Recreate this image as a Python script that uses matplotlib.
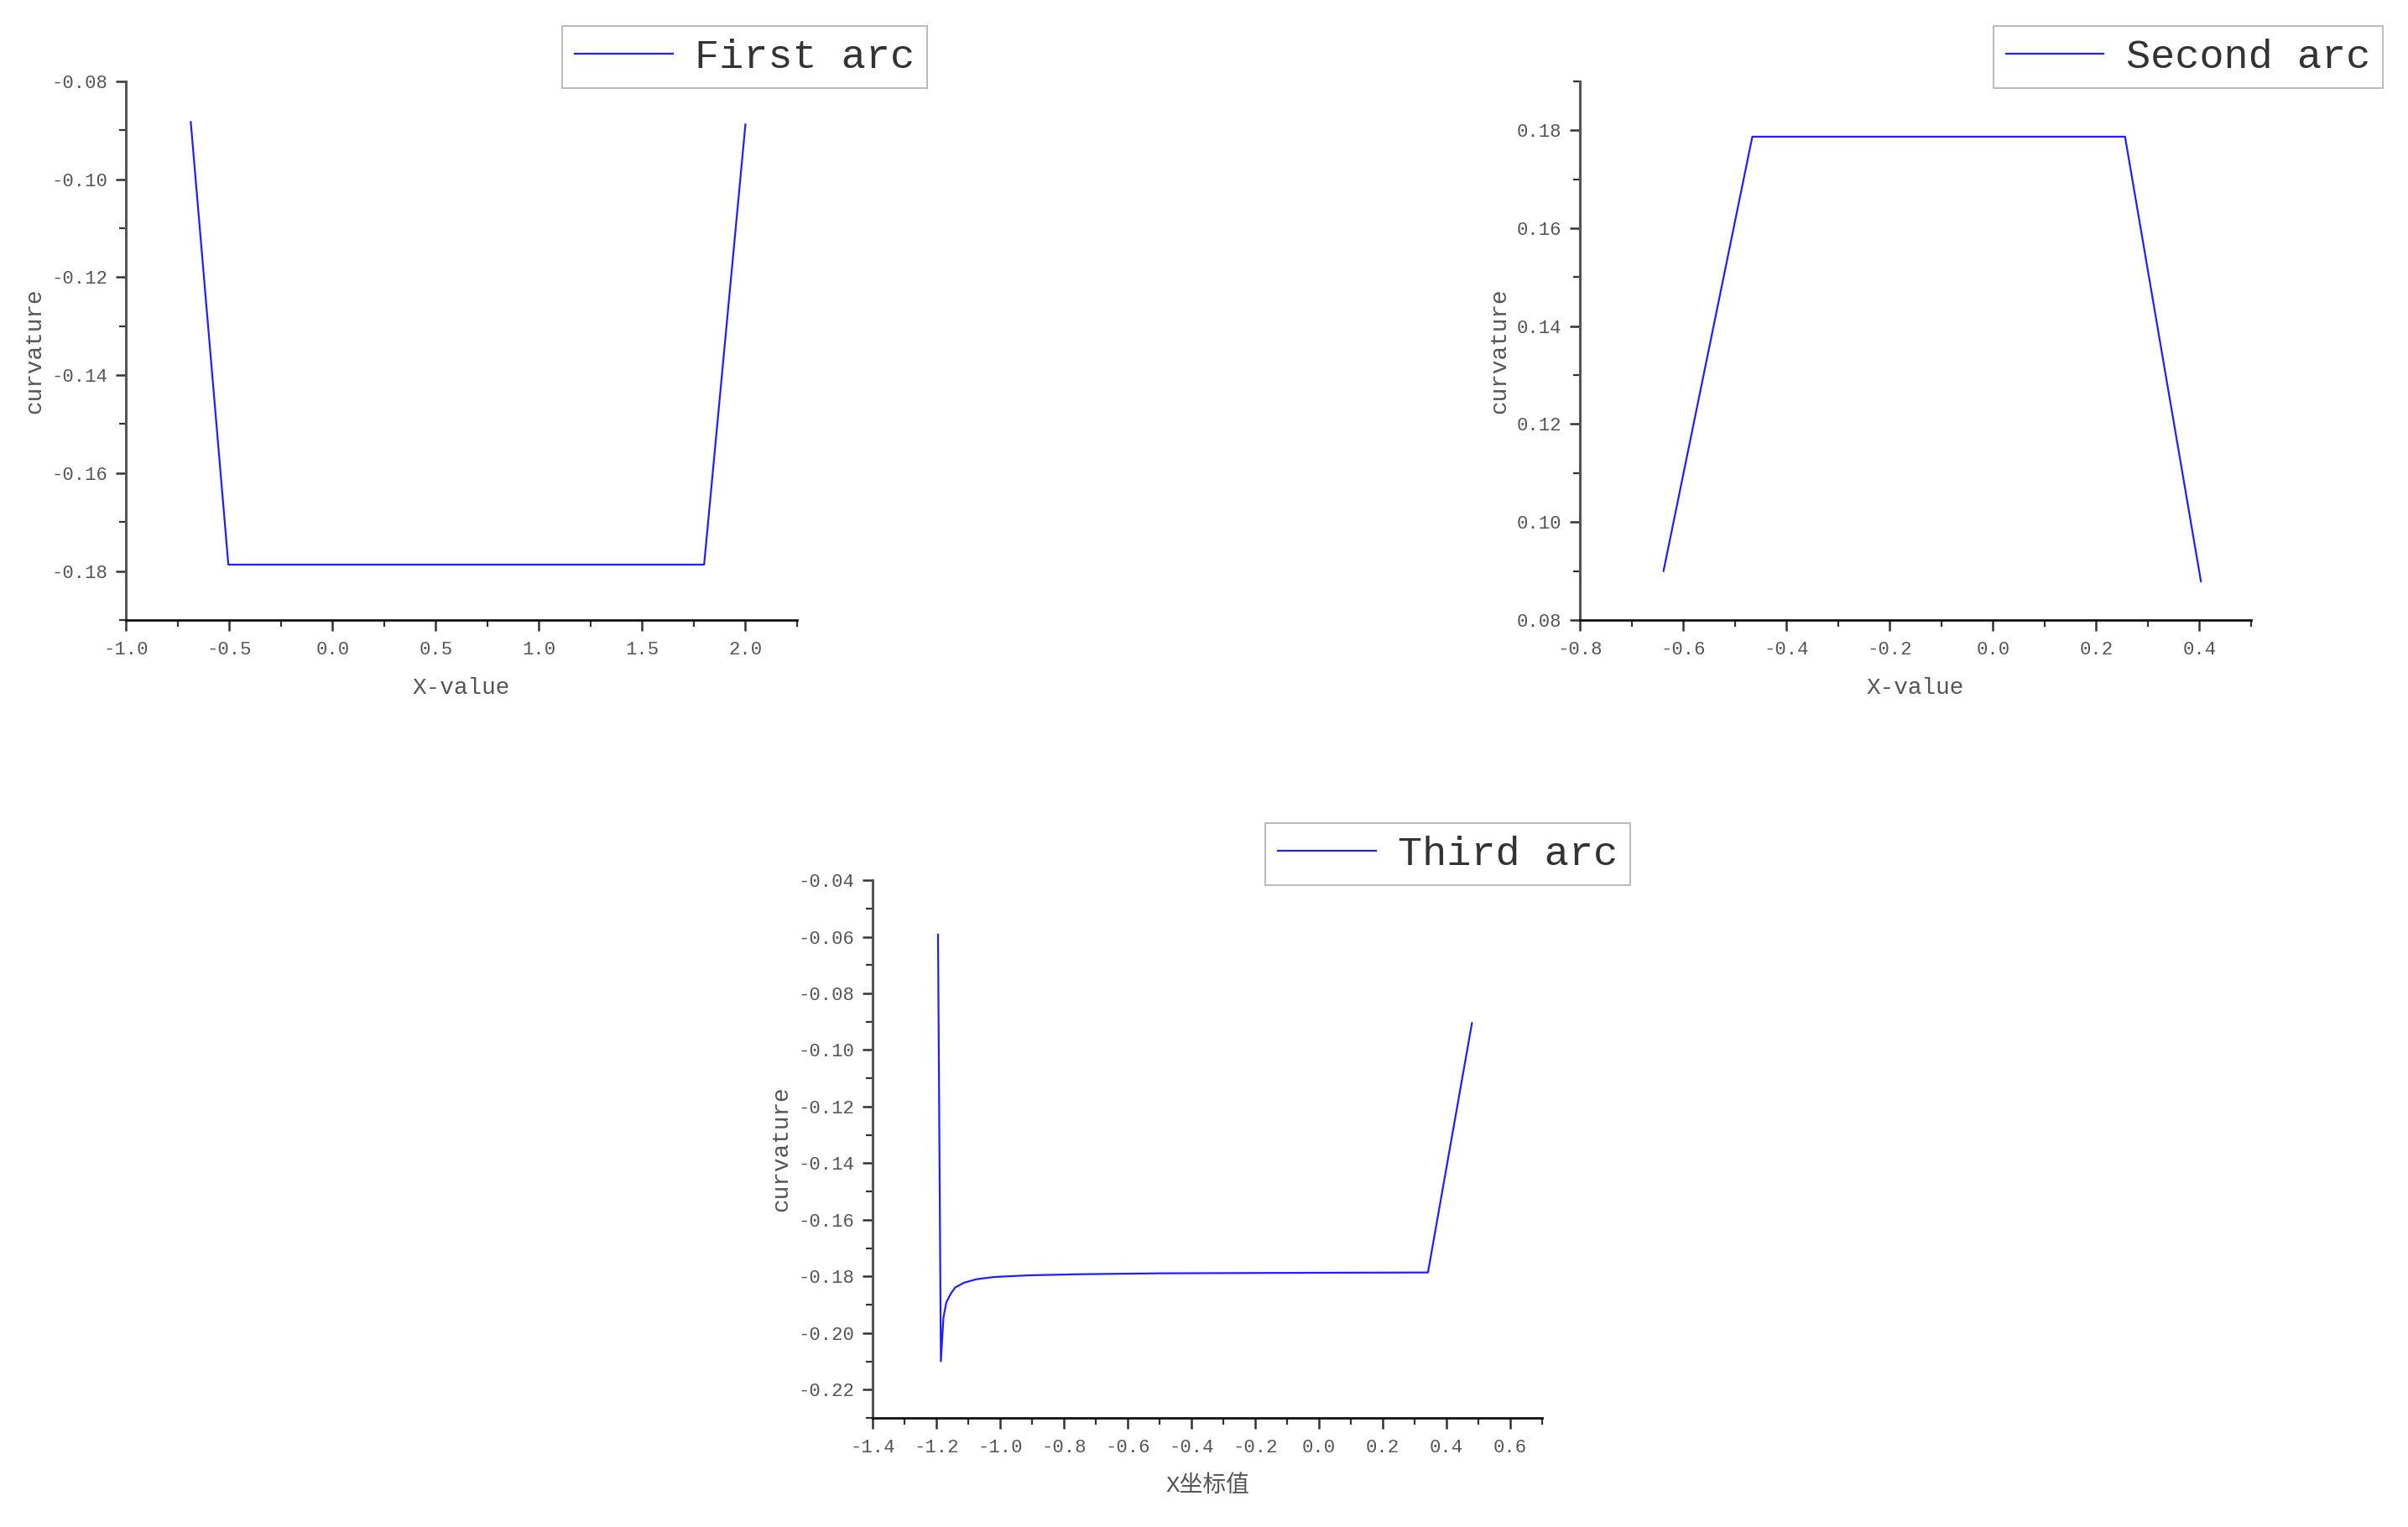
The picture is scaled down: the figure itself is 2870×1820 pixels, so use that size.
import numpy as np
import matplotlib
matplotlib.use("Agg")
from matplotlib import pyplot as plt
from matplotlib.ticker import MultipleLocator, FormatStrFormatter

plt.rcParams['font.family'] = ['Liberation Mono', 'Noto Sans CJK SC']
plt.rcParams['axes.unicode_minus'] = False

# First arc
x1 = [-0.686, -0.504, 1.80, 2.0]
y1 = [-0.0883, -0.1787, -0.1787, -0.0888]

# Second arc
x2 = [-0.638, -0.466, 0.256, 0.403]
y2 = [0.0900, 0.1787, 0.1787, 0.0879]

# Third arc
x3 = [-1.195, -1.186, -1.178, -1.169, -1.155, -1.141, -1.113, -1.075,
      -1.02, -0.91, -0.74, -0.5, 0.0, 0.342, 0.48]
y3 = [-0.0592, -0.2100, -0.1946, -0.1892, -0.1861, -0.1839, -0.1822, -0.1810,
      -0.1802, -0.1796, -0.1792, -0.1789, -0.1787, -0.1786, -0.0905]

panels = [
    dict(x=x1, y=y1, name='First arc', xlabel='X-value',
         pos=[0.0523, 0.594, 0.2787, 0.3527], xlim=(-1.0, 2.25), ylim=(-0.19, -0.08),
         xmaj=0.5, xmin=0.25, ymaj=0.02, ymin=0.01, leg=(1105, 31)),
    dict(x=x2, y=y2, name='Second arc', xlabel='X-value',
         pos=[0.6561, 0.594, 0.2787, 0.3527], xlim=(-0.8, 0.5), ylim=(0.08, 0.19),
         xmaj=0.2, xmin=0.1, ymaj=0.02, ymin=0.01, leg=(2840, 31)),
    dict(x=x3, y=y3, name='Third arc', xlabel='X坐标值',
         pos=[0.3624, 0.0714, 0.2780, 0.3522], xlim=(-1.4, 0.7), ylim=(-0.23, -0.04),
         xmaj=0.2, xmin=0.1, ymaj=0.02, ymin=0.01, leg=(1943, 981)),
]

W, H = 2870, 1820
fig = plt.figure(figsize=(W / 100, H / 100), dpi=100)

for p in panels:
    ax = fig.add_axes(p['pos'])
    ax.plot(p['x'], p['y'], color='#1f1fff', lw=1.6, label=p['name'])
    ax.set_xlim(*p['xlim'])
    ax.set_ylim(*p['ylim'])
    ax.xaxis.set_major_locator(MultipleLocator(p['xmaj']))
    ax.xaxis.set_minor_locator(MultipleLocator(p['xmin']))
    ax.yaxis.set_major_locator(MultipleLocator(p['ymaj']))
    ax.yaxis.set_minor_locator(MultipleLocator(p['ymin']))
    ax.xaxis.set_major_formatter(FormatStrFormatter('%.1f'))
    ax.yaxis.set_major_formatter(FormatStrFormatter('%.2f'))
    for s in ['top', 'right']:
        ax.spines[s].set_visible(False)
    ax.spines['bottom'].set_color('#111111')
    ax.spines['left'].set_color('#555555')
    ax.spines['bottom'].set_linewidth(2.0)
    ax.spines['left'].set_linewidth(2.2)
    ax.tick_params(which='major', direction='out', length=9, width=1.8,
                   color='#333333', labelsize=16, labelcolor='#555555')
    ax.tick_params(axis='x', which='major', pad=9)
    ax.tick_params(axis='y', which='major', pad=7)
    ax.tick_params(which='minor', direction='out', length=5.5, width=1.6, color='#333333')
    ax.set_xlabel(p['xlabel'], fontsize=20, color='#555555', labelpad=16)
    ax.set_ylabel('curvature', fontsize=20, color='#555555', labelpad=5)
    lx, ly = p['leg']
    leg = ax.legend(loc='upper right', bbox_to_anchor=(lx / W, 1 - ly / H),
                    bbox_transform=fig.transFigure, fontsize=35, frameon=True,
                    fancybox=False, framealpha=1, edgecolor='#bbbbbb',
                    handlelength=2.4, handletextpad=0.55, borderpad=0.3,
                    borderaxespad=0)
    for t in leg.get_texts():
        t.set_color('#333333')
    leg.get_frame().set_linewidth(1.5)

fig.savefig('out.png', dpi=100, facecolor='white')
